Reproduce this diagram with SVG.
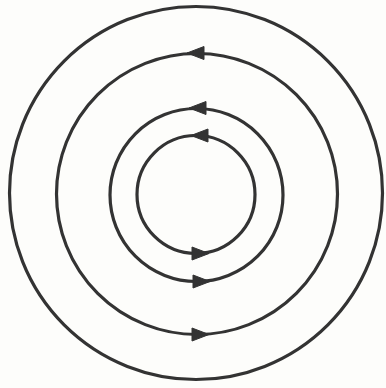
<svg xmlns="http://www.w3.org/2000/svg" width="386" height="388" viewBox="0 0 386 388">
<style>
.ring{fill:none;stroke:#333;stroke-width:3.2}
.head{fill:#333;stroke:#333;stroke-width:1;stroke-linejoin:round}
</style>
<defs>
<path id="tri" d="M0,0 L17,-6.5 L17,6.5 Z"/>
</defs>
<rect width="386" height="388" fill="#fdfdfb"/>
<g id="ring1"><circle class="ring" cx="196" cy="193" r="186.5"/></g>
<g id="ring2"><circle class="ring" cx="197" cy="194" r="140.5"/></g>
<g id="ring3"><circle class="ring" cx="196.5" cy="195" r="86.5"/></g>
<g id="ring4"><circle class="ring" cx="196" cy="194.5" r="59"/></g>
<g id="arrows">
<use href="#tri" class="head" transform="translate(187,53)"/>
<use href="#tri" class="head" transform="translate(189,108)"/>
<use href="#tri" class="head" transform="translate(191,135.5)"/>
<use href="#tri" class="head" transform="translate(209,253.5) rotate(180)"/>
<use href="#tri" class="head" transform="translate(210,281.5) rotate(180)"/>
<use href="#tri" class="head" transform="translate(209,334.5) rotate(180)"/>
</g>
</svg>
